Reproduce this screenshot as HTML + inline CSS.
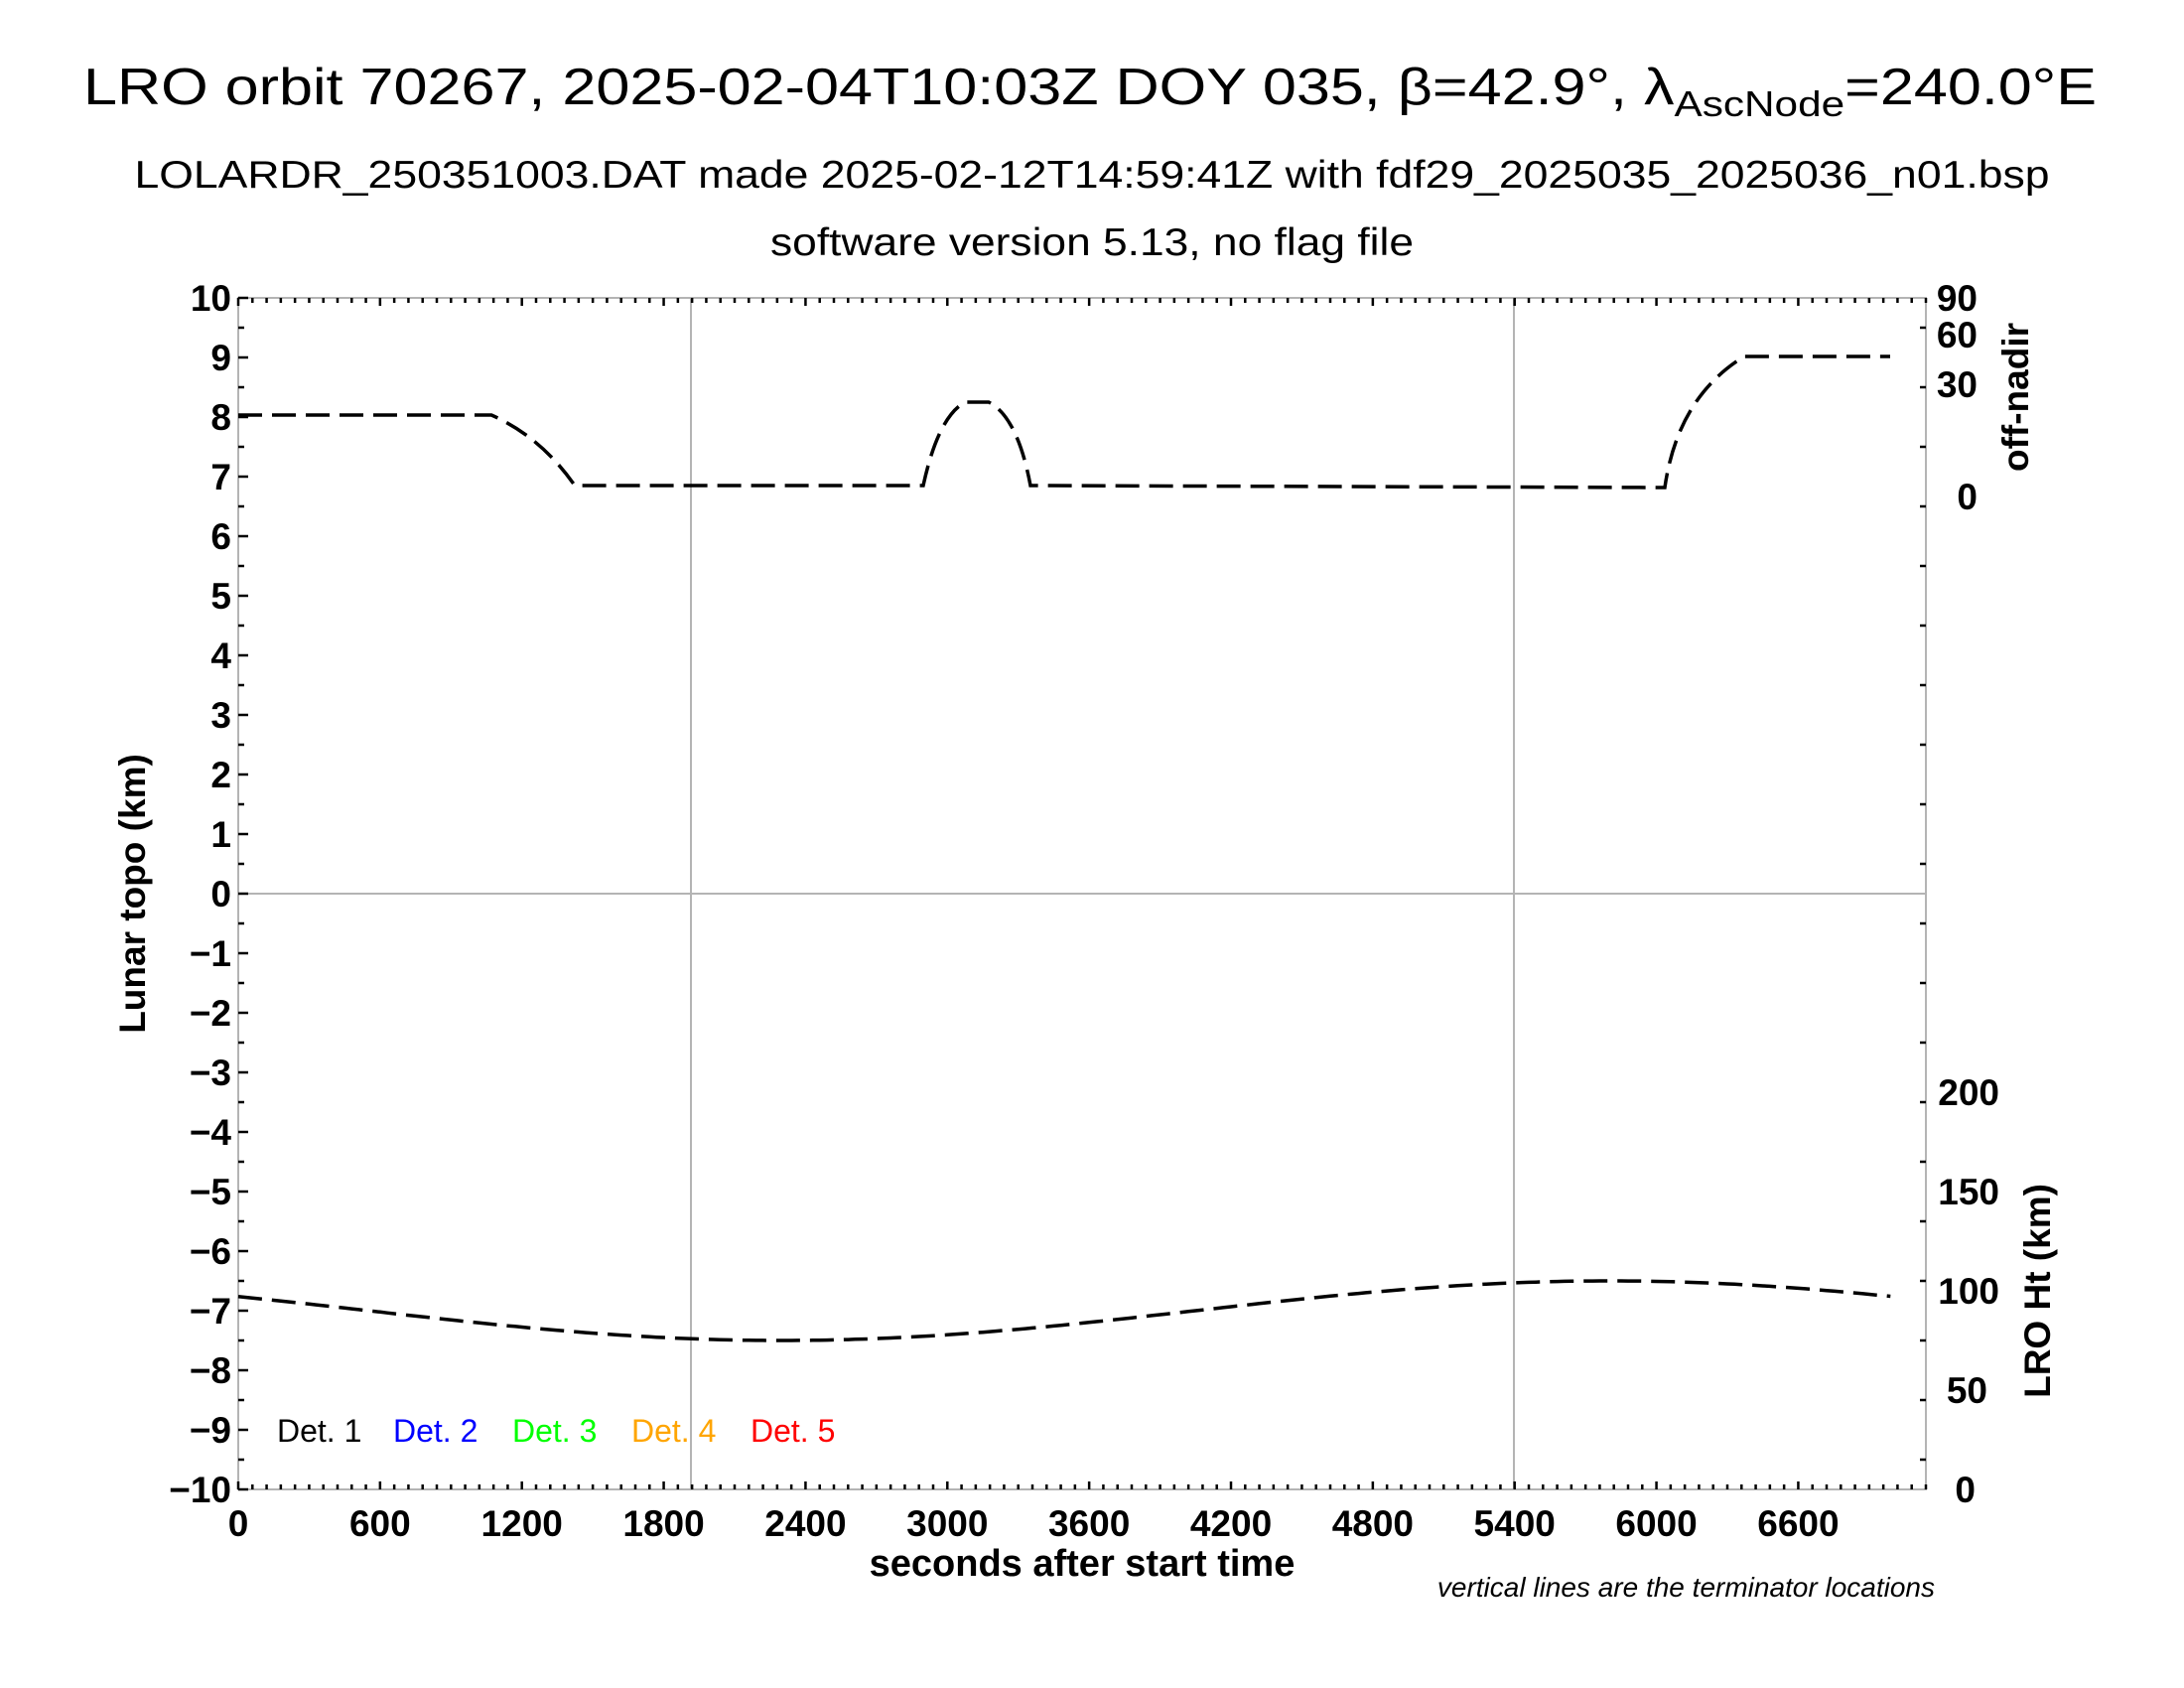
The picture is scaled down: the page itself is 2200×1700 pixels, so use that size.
<!DOCTYPE html>
<html><head><meta charset="utf-8"><style>
html,body{margin:0;padding:0;background:#fff;}
svg{display:block;}
text{font-family:"Liberation Sans",Arial,sans-serif;}
.b{font-weight:bold;}
</style></head><body>
<svg id="s" width="2200" height="1700" viewBox="0 0 2200 1700" xmlns="http://www.w3.org/2000/svg">
<rect width="2200" height="1700" fill="#fff"/>
<text x="1098" y="105" font-size="52" text-anchor="middle" textLength="2028" lengthAdjust="spacingAndGlyphs">LRO orbit 70267, 2025-02-04T10:03Z DOY 035, β=42.9°, λ<tspan font-size="36" dy="12">AscNode</tspan><tspan dy="-12">=240.0°E</tspan></text>
<text x="1100" y="189" font-size="39" text-anchor="middle" textLength="1929" lengthAdjust="spacingAndGlyphs">LOLARDR_250351003.DAT made 2025-02-12T14:59:41Z with fdf29_2025035_2025036_n01.bsp</text>
<text x="1100" y="257" font-size="39" text-anchor="middle" textLength="648" lengthAdjust="spacingAndGlyphs">software version 5.13, no flag file</text>
<g id="grid" stroke="#b4b4b4" stroke-width="2" fill="none">
<line x1="696" y1="300" x2="696" y2="1500"/>
<line x1="1525" y1="300" x2="1525" y2="1500"/>
<line x1="240" y1="900" x2="1940" y2="900"/>
<rect x="240" y="300" width="1700" height="1200"/>
</g>
<g id="ticks" stroke="#000" stroke-width="2.5"></g>
<g id="labels" class="b" font-size="37"></g>
<g fill="none" stroke="#000" stroke-width="3.5" stroke-dasharray="24,10">
<path d="M240,418 L495,418 Q545,440 579,489 L930,489 Q945,420 972,405 L996,405 Q1025,420 1038,489 L1677,491 Q1690,400 1757,359 L1904,359"/>
<path id="ht" d=""/>
</g>
<g font-size="32">
<text x="279" y="1452" fill="#000">Det. 1</text>
<text x="396" y="1452" fill="#0000ff">Det. 2</text>
<text x="516" y="1452" fill="#00ff00">Det. 3</text>
<text x="636" y="1452" fill="#ffa500">Det. 4</text>
<text x="756" y="1452" fill="#ff0000">Det. 5</text>
</g>
<text class="b" x="1090" y="1587" font-size="38" text-anchor="middle">seconds after start time</text>
<text x="1949" y="1608" font-size="28" font-style="italic" text-anchor="end">vertical lines are the terminator locations</text>
<text class="b" font-size="37" text-anchor="middle" transform="translate(146,900) rotate(-90)">Lunar topo (km)</text>
<text class="b" font-size="37" text-anchor="middle" transform="translate(2043,400) rotate(-90)">off-nadir</text>
<text class="b" font-size="37" text-anchor="middle" transform="translate(2065,1300) rotate(-90)">LRO Ht (km)</text>
<g class="b" font-size="37" text-anchor="end">
<text x="1992" y="313">90</text>
<text x="1992" y="350">60</text>
<text x="1992" y="400">30</text>
<text x="1992" y="513">0</text>
<text x="2014" y="1113">200</text>
<text x="2014" y="1213">150</text>
<text x="2014" y="1313">100</text>
<text x="2002" y="1413">50</text>
<text x="1990" y="1513">0</text>
</g>
</svg>
<script>
(function(){
var NS="http://www.w3.org/2000/svg";
var tk=document.getElementById("ticks"),lb=document.getElementById("labels");
function ln(x1,y1,x2,y2){var l=document.createElementNS(NS,"line");l.setAttribute("x1",x1);l.setAttribute("y1",y1);l.setAttribute("x2",x2);l.setAttribute("y2",y2);tk.appendChild(l);}
function tx(x,y,s,a){var t=document.createElementNS(NS,"text");t.setAttribute("x",x);t.setAttribute("y",y);t.setAttribute("text-anchor",a);t.textContent=s;lb.appendChild(t);}
var px=1700/7140;
for(var v=-10;v<=10;v++){var y=300+(10-v)*60;ln(240,y,250,y);tx(233,y+13,(v<0?"\u2212"+(-v):""+v),"end");}
for(var v=-9.5;v<10;v+=1){var y=300+(10-v)*60;ln(240,y,246,y);ln(1940,y,1934,y);}
for(var t=0;t<=7140;t+=60){var x=240+t*px;var L=(t%600==0)?8:5;ln(x,1500,x,1500-L);ln(x,300,x,300+L);}
for(var t=0;t<=6600;t+=600){tx(240+t*px,1547,""+t,"middle");}
var d="";
for(var t=0;t<=6990;t+=30){var v=-7-0.5*Math.cos(2*Math.PI*(t-2300)/7000);var x=240+t*px,y=300+(10-v)*60;d+=(t==0?"M":"L")+x.toFixed(1)+","+y.toFixed(1);}
document.getElementById("ht").setAttribute("d",d);
})();
</script>
</body></html>
